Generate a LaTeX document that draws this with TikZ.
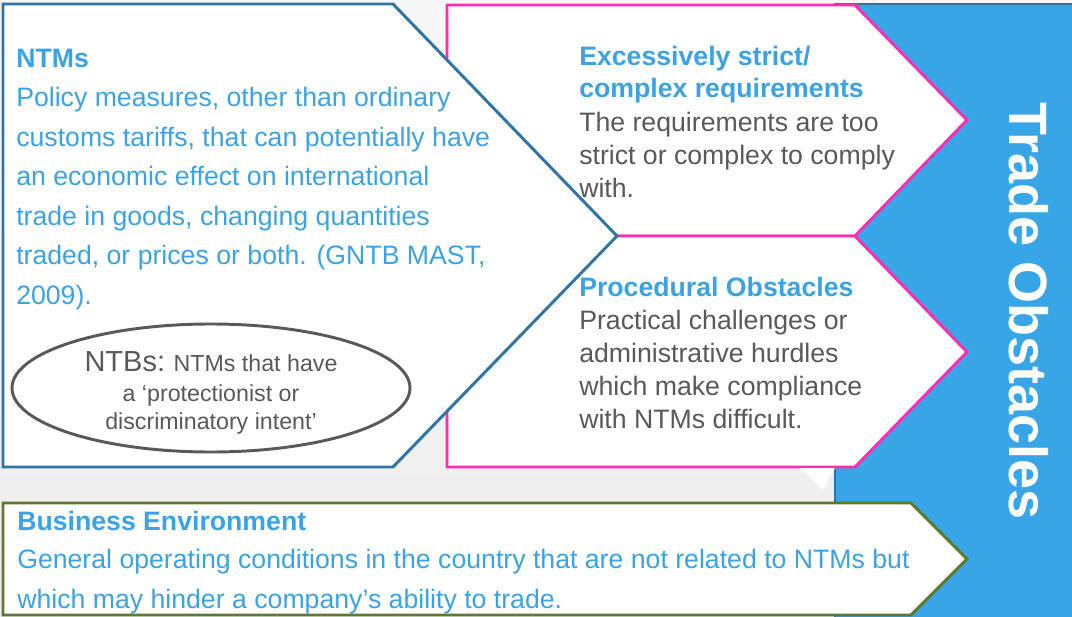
\documentclass[tikz,border=0pt]{standalone}
\usepackage{fontspec}
\setmainfont{Liberation Sans}
\definecolor{ntmblue}{HTML}{2E75A6}
\definecolor{txtblue}{HTML}{3BA3E4}
\definecolor{txtgray}{HTML}{595959}
\definecolor{barblue}{HTML}{38A6E6}
\definecolor{obspink}{HTML}{FF2DB4}
\definecolor{envgreen}{HTML}{5F7A2E}
\begin{document}
\begin{tikzpicture}[x=0.75pt, y=-0.75pt,
    panel/.style={draw, fill=white, line width=2.2pt},
    body/.style={anchor=base west, align=left, inner sep=0pt, text=txtgray, font=\fontsize{20}{24.6}\selectfont},
    head/.style={body, text=txtblue, font=\fontsize{20}{24.4}\selectfont\bfseries}
]
    \useasboundingbox (0,0) rectangle (1072,617);
    \shade[top color=white!97!black, bottom color=white!93!black] (0,0) rectangle (1072,617);

    % Balken rechts
    \draw[fill=barblue, draw=ntmblue, line width=1.5pt] (835,4) rectangle (1080,625);
    \node[rotate=-90, text=white, font=\fontsize{40.5}{44}\selectfont\bfseries] (trade) at (1029,311) {Trade Obstacles};

    % Hindernisse Mitte
    \draw[panel, draw=obspink] (447,5) -- (855,5) -- (967,120) -- (855,236) -- (447,236) -- cycle;
    \draw[panel, draw=obspink] (447,236) -- (855,236) -- (967,352) -- (855,467) -- (447,467) -- cycle;
    \fill[white] (800,468) -- (835,468) -- (823,490) -- cycle;

    % NTMs links
    \draw[panel, draw=ntmblue] (3,4) -- (393,4) -- (617,236) -- (393,467) -- (3,467) -- cycle;
    \draw[txtgray, line width=2.2pt] (211,388) ellipse [x radius=199, y radius=64];

    % Umfeld unten
    \draw[panel, draw=envgreen] (3,503) -- (911,503) -- (967,559) -- (911,615) -- (3,615) -- cycle;

    % Texte (base = letzte Zeile)
    \node[body, text=txtblue, font=\fontsize{20}{29.6}\selectfont] (ntms) at (16,304)
        {\textbf{NTMs}\\Policy measures, other than ordinary\\customs tariffs, that can potentially have\\an economic effect on international\\trade in goods, changing quantities\\traded, or prices or both. (GNTB MAST,\\2009).};
    \node[anchor=base, align=center, inner sep=0pt, text=txtgray, font=\fontsize{17.4}{20.6}\selectfont] (ntbs) at (211,429)
        {{\fontsize{21.75}{24}\selectfont NTBs:} NTMs that have\\[2pt]a ‘protectionist or\\discriminatory intent’};

    \node[head] (strict) at (579,98) {Excessively strict/\\complex requirements};
    \node[body] (strictdesc) at (579,197) {The requirements are too\\strict or complex to comply\\with.};

    \node[head] (proc) at (579,296) {Procedural Obstacles};
    \node[body] (procdesc) at (579,428) {Practical challenges or\\administrative hurdles\\which make compliance\\with NTMs difficult.};

    \node[head] (env) at (17,530) {Business Environment};
    \node[body, text=txtblue, font=\fontsize{20}{29.3}\selectfont] (envdesc) at (17,608)
        {General operating conditions in the country that are not related to NTMs but\\which may hinder a company’s ability to trade.};
\end{tikzpicture}
\end{document}
